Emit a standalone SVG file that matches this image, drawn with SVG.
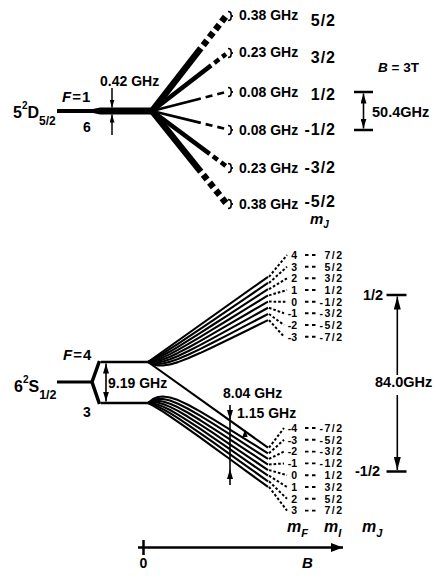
<svg xmlns="http://www.w3.org/2000/svg" width="435" height="577" viewBox="0 0 435 577">
<defs>
<style>
.t{font-family:"Liberation Sans",Arial,Helvetica,sans-serif;font-weight:bold;fill:#000}
.s14{font-size:14px}
.sm{font-size:10.5px}
.i{font-style:italic}
.ln{stroke:#000;fill:none;stroke-linecap:butt}
.cv{stroke:#000;fill:none;stroke-width:2.1;stroke-linejoin:round}
.dt{stroke:#000;fill:none;stroke-width:2;stroke-dasharray:2.6 2}
.mid{stroke:#000;fill:none;stroke-width:1.9;stroke-dasharray:3.5 3.5}
.br{stroke:#000;fill:none;stroke-width:1.6}
.fr{letter-spacing:1.5px}
.frt{letter-spacing:1px}
</style>
<marker id="ah" viewBox="0 0 10 6" refX="10" refY="3" markerWidth="10" markerHeight="6" markerUnits="userSpaceOnUse" orient="auto-start-reverse"><path d="M0,0 L10,3 L0,6 z"/></marker>
<marker id="ahs" viewBox="0 0 8 5" refX="8" refY="2.5" markerWidth="8" markerHeight="5" markerUnits="userSpaceOnUse" orient="auto"><path d="M0,0 L8,2.5 L0,5 z"/></marker>
<marker id="ahl" viewBox="0 0 13 7" refX="13" refY="3.5" markerWidth="13" markerHeight="7" markerUnits="userSpaceOnUse" orient="auto"><path d="M0,0 L13,3.5 L0,7 z"/></marker>
<marker id="ahb" viewBox="0 0 12 9" refX="12" refY="4.5" markerWidth="12" markerHeight="9" markerUnits="userSpaceOnUse" orient="auto"><path d="M0,0 L12,4.5 L0,9 z"/></marker>
<path id="brace" d="M0,-4.5 q3,0 3,2.5 v0.5 q0,1.5 2,1.5 q-2,0 -2,1.5 v0.5 q0,2.5 -3,2.5"/>
</defs>
<rect width="435" height="577" fill="#fff"/>

<g id="level-5D52">
<text class="t" x="13" y="118" font-size="16">5<tspan font-size="10" dy="-9">2</tspan><tspan dy="9">D</tspan><tspan font-size="12" dy="7">5/2</tspan></text>
<polygon points="57,109 93,109 100,107.5 152,107.5 152,114.5 100,114.5 93,113 57,113" fill="#000"/>
<text class="t" x="62" y="102" font-size="15" letter-spacing="1"><tspan class="i">F</tspan>=1</text>
<text class="t s14" x="83" y="132">6</text>
<text class="t s14" x="100" y="86">0.42 GHz</text>
</g>

<g id="sublevels-5D">
<text class="t s14" x="239" y="20">0.38 GHz</text>
<text class="t s14" x="239" y="57">0.23 GHz</text>
<text class="t s14" x="239" y="97">0.08 GHz</text>
<text class="t s14" x="239" y="135">0.08 GHz</text>
<text class="t s14" x="239" y="173">0.23 GHz</text>
<text class="t s14" x="239" y="209">0.38 GHz</text>
<g font-size="16" class="t frt" text-anchor="end">
<text x="336" y="26">5/2</text>
<text x="336" y="63">3/2</text>
<text x="336" y="100">1/2</text>
<text x="336" y="135">-1/2</text>
<text x="336" y="173">-3/2</text>
<text x="336" y="207">-5/2</text>
</g>
<text class="t" x="310" y="224" font-size="15"><tspan class="i">m</tspan><tspan class="i" font-size="10" dy="4">J</tspan></text>
<text class="t" x="378" y="72" font-size="13.5"><tspan class="i">B</tspan> = 3T</text>
</g>

<g id="scale-50GHz">
<line class="ln" x1="354" y1="92" x2="373" y2="92" stroke-width="2.5"/>
<line class="ln" x1="354" y1="130" x2="373" y2="130" stroke-width="2.5"/>
<text class="t" x="372" y="117" font-size="14.5">50.4GHz</text>
</g>

<g id="level-6S12">
<text class="t" x="14" y="392" font-size="16">6<tspan font-size="10" dy="-9">2</tspan><tspan dy="9">S</tspan><tspan font-size="12.5" dy="7">1/2</tspan></text>
<line class="ln" x1="57" y1="382" x2="93" y2="382" stroke-width="3"/>
<polyline class="ln" points="99.5,361 92,382 99.5,404" stroke-width="3.5" stroke-linejoin="miter"/>
</g>
<g id="level-F4">
<line class="ln" x1="101" y1="362" x2="148" y2="362" stroke-width="2.5"/>
<text class="t" x="63" y="360" font-size="15" letter-spacing="1"><tspan class="i">F</tspan>=4</text>
</g>
<g id="level-F3">
<line class="ln" x1="101" y1="403" x2="148" y2="403" stroke-width="2.5"/>
<text class="t s14" x="83" y="417">3</text>
</g>
<g id="hfs-label">
<text class="t s14" x="108" y="388">9.19 GHz</text>
</g>

<g id="labels-upper" class="t sm">
<g text-anchor="end">
<text x="297" y="258.8">4</text>
<text x="297" y="270.5">3</text>
<text x="297" y="282.1">2</text>
<text x="297" y="293.8">1</text>
<text x="297" y="305.5">0</text>
<text x="297" y="317.1">-1</text>
<text x="297" y="328.8">-2</text>
<text x="297" y="340.5">-3</text>
</g>
<g text-anchor="end" class="fr">
<text x="343.5" y="258.8">7/2</text>
<text x="343.5" y="270.5">5/2</text>
<text x="343.5" y="282.1">3/2</text>
<text x="343.5" y="293.8">1/2</text>
<text x="343.5" y="305.5">-1/2</text>
<text x="343.5" y="317.1">-3/2</text>
<text x="343.5" y="328.8">-5/2</text>
<text x="343.5" y="340.5">-7/2</text>
</g>
</g>

<g id="labels-lower" class="t sm">
<g text-anchor="end">
<text x="297" y="431.8">-4</text>
<text x="297" y="443.6">-3</text>
<text x="297" y="455.4">-2</text>
<text x="297" y="467.2">-1</text>
<text x="297" y="479">0</text>
<text x="297" y="490.8">1</text>
<text x="297" y="502.6">2</text>
<text x="297" y="514.4">3</text>
</g>
<g text-anchor="end" class="fr">
<text x="343.5" y="431.8">-7/2</text>
<text x="343.5" y="443.6">-5/2</text>
<text x="343.5" y="455.4">-3/2</text>
<text x="343.5" y="467.2">-1/2</text>
<text x="343.5" y="479">1/2</text>
<text x="343.5" y="490.8">3/2</text>
<text x="343.5" y="502.6">5/2</text>
<text x="343.5" y="514.4">7/2</text>
</g>
</g>

<g id="column-heads" class="t">
<text x="287" y="532" font-size="16"><tspan class="i">m</tspan><tspan class="i" font-size="11" dy="5">F</tspan></text>
<text x="324" y="532" font-size="16"><tspan class="i">m</tspan><tspan class="i" font-size="11" dy="5">I</tspan></text>
<text x="362" y="532" font-size="16"><tspan class="i">m</tspan><tspan class="i" font-size="11" dy="5">J</tspan></text>
</g>

<g id="scale-84GHz">
<line class="ln" x1="386.5" y1="295" x2="406.5" y2="295" stroke-width="2.5"/>
<line class="ln" x1="386.5" y1="471.5" x2="406.5" y2="471.5" stroke-width="2.5"/>
<text class="t" x="363" y="300" font-size="14.5">1/2</text>
<text class="t" x="355" y="476" font-size="14.5">-1/2</text>
<text class="t" x="375" y="387" font-size="14.5">84.0GHz</text>
</g>

<g id="field-axis">
<line class="ln" x1="138" y1="547.5" x2="343" y2="547.5" stroke-width="2.5" marker-end="url(#ahb)"/>
<line class="ln" x1="143.5" y1="540" x2="143.5" y2="555" stroke-width="2.5"/>
<text class="t s14" x="143.5" y="568" text-anchor="middle">0</text>
<text class="t i" x="302" y="568" font-size="15">B</text>
</g>

<g id="splitting-labels">
<text class="t s14" x="223" y="398">8.04 GHz</text>
<text class="t s14" x="237" y="418">1.15 GHz</text>
</g>

<g id="connectors">
<line class="ln" x1="112" y1="88" x2="112" y2="107.5" stroke-width="1.5" marker-end="url(#ahs)"/>
<line class="ln" x1="112" y1="135" x2="112" y2="114.5" stroke-width="1.5" marker-end="url(#ahs)"/>
<line class="ln" x1="152" y1="111" x2="200.8" y2="48.3" stroke-width="6.5"/>
<line class="ln" x1="152" y1="111" x2="211.2" y2="65.4" stroke-width="4.5"/>
<line class="ln" x1="152" y1="111" x2="200.8" y2="98.5" stroke-width="2.7"/>
<line class="ln" x1="152" y1="111" x2="200.8" y2="122.9" stroke-width="2.7"/>
<line class="ln" x1="152" y1="111" x2="209.7" y2="153.9" stroke-width="4.5"/>
<line class="ln" x1="152" y1="111" x2="200.8" y2="171.7" stroke-width="6.5"/>
<line class="ln" x1="200.8" y1="48.3" x2="226" y2="16" stroke-width="6.5" stroke-dasharray="6 4" stroke-dashoffset="6"/>
<line class="ln" x1="211.2" y1="65.4" x2="226" y2="54" stroke-width="4.5" stroke-dasharray="6 4" stroke-dashoffset="6"/>
<line class="ln" x1="200.8" y1="98.5" x2="226" y2="92" stroke-width="2.7" stroke-dasharray="7 5" stroke-dashoffset="7"/>
<line class="ln" x1="200.8" y1="122.9" x2="226" y2="129" stroke-width="2.7" stroke-dasharray="7 5" stroke-dashoffset="7"/>
<line class="ln" x1="209.7" y1="153.9" x2="226" y2="166" stroke-width="4.5" stroke-dasharray="6 4" stroke-dashoffset="6"/>
<line class="ln" x1="200.8" y1="171.7" x2="226" y2="203" stroke-width="6.5" stroke-dasharray="6 4" stroke-dashoffset="6"/>
<use href="#brace" class="br" x="228" y="16"/>
<use href="#brace" class="br" x="228" y="53"/>
<use href="#brace" class="br" x="228" y="92"/>
<use href="#brace" class="br" x="228" y="130"/>
<use href="#brace" class="br" x="228" y="168"/>
<use href="#brace" class="br" x="228" y="204"/>
<line class="ln" x1="363.5" y1="93.5" x2="363.5" y2="128.5" stroke-width="1.6" marker-start="url(#ah)" marker-end="url(#ah)"/>
<line class="ln" x1="106" y1="363.5" x2="106" y2="401.5" stroke-width="1.6" marker-start="url(#ah)" marker-end="url(#ah)"/>
<path class="cv" d="M148,362 L268,276.8"/>
<path class="cv" d="M148,362 L153,359.3 L158,356.41 L163,353.37 L170,348.96 L178,343.76 L188,337.13 L200,329.08 L213,320.3 L228,310.14 L248,296.57 L268,282.99"/>
<path class="cv" d="M148,362 L153,360.16 L158,357.92 L163,355.39 L170,351.53 L178,346.82 L188,340.67 L200,333.08 L213,324.75 L228,315.07 L248,302.13 L268,289.18"/>
<path class="cv" d="M148,362 L153,361.01 L158,359.42 L163,357.42 L170,354.11 L178,349.88 L188,344.2 L200,337.08 L213,329.2 L228,320.01 L248,307.7 L268,295.37"/>
<path class="cv" d="M148,362 L153,361.86 L158,360.93 L163,359.44 L170,356.68 L178,352.94 L188,347.73 L200,341.08 L213,333.65 L228,324.94 L248,313.27 L268,301.56"/>
<path class="cv" d="M148,362 L153,362.72 L158,362.44 L163,361.46 L170,359.26 L178,356 L188,351.27 L200,345.08 L213,338.1 L228,329.88 L248,318.84 L268,307.76"/>
<path class="cv" d="M148,362 L153,363.57 L158,363.95 L163,363.48 L170,361.84 L178,359.06 L188,354.8 L200,349.08 L213,342.55 L228,334.82 L248,324.4 L268,313.95"/>
<path class="cv" d="M148,362 L153,364.42 L158,365.46 L163,365.5 L170,364.41 L178,362.12 L188,358.33 L200,353.08 L213,347 L228,339.75 L248,329.97 L268,320.14"/>
<path class="cv" d="M148,362 L268,447.7"/>
<path class="cv" d="M148,403 L153,399 L158,397.03 L163,396.51 L170,397.46 L178,400.09 L188,404.72 L200,411.3 L213,419.04 L228,428.27 L248,440.77 L268,453.33"/>
<path class="cv" d="M148,403 L153,400.11 L158,398.95 L163,399.03 L170,400.59 L178,403.7 L188,408.74 L200,415.66 L213,423.67 L228,433.18 L248,446.03 L268,458.93"/>
<path class="cv" d="M148,403 L153,401.21 L158,400.86 L163,401.56 L170,403.73 L178,407.31 L188,412.75 L200,420.01 L213,428.31 L228,438.1 L248,451.29 L268,464.52"/>
<path class="cv" d="M148,403 L153,402.31 L158,402.78 L163,404.09 L170,406.87 L178,410.93 L188,416.77 L200,424.37 L213,432.95 L228,443.02 L248,456.55 L268,470.12"/>
<path class="cv" d="M148,403 L153,403.42 L158,404.7 L163,406.61 L170,410 L178,414.54 L188,420.79 L200,428.72 L213,437.58 L228,447.93 L248,461.81 L268,475.72"/>
<path class="cv" d="M148,403 L153,404.52 L158,406.62 L163,409.14 L170,413.14 L178,418.15 L188,424.81 L200,433.08 L213,442.22 L228,452.85 L248,467.08 L268,481.32"/>
<path class="cv" d="M148,403 L153,405.63 L158,408.54 L163,411.66 L170,416.27 L178,421.77 L188,428.82 L200,437.43 L213,446.85 L228,457.76 L248,472.34 L268,486.92"/>
<line class="dt" x1="269" y1="276.8" x2="287" y2="255"/>
<line class="dt" x1="269" y1="283" x2="287" y2="266.7"/>
<line class="dt" x1="269" y1="289.2" x2="287" y2="278.3"/>
<line class="dt" x1="269" y1="295.4" x2="287" y2="290"/>
<line class="dt" x1="269" y1="301.6" x2="286" y2="301.7"/>
<line class="dt" x1="269" y1="307.8" x2="284" y2="313.3"/>
<line class="dt" x1="269" y1="314" x2="284" y2="325"/>
<line class="dt" x1="269" y1="320.1" x2="284" y2="336.7"/>
<line class="dt" x1="269" y1="447.7" x2="284" y2="428"/>
<line class="dt" x1="269" y1="453.3" x2="284" y2="439.8"/>
<line class="dt" x1="269" y1="458.9" x2="284" y2="451.6"/>
<line class="dt" x1="269" y1="464.5" x2="284" y2="463.4"/>
<line class="dt" x1="269" y1="470.1" x2="287" y2="475.2"/>
<line class="dt" x1="269" y1="475.7" x2="287" y2="487"/>
<line class="dt" x1="269" y1="481.3" x2="287" y2="498.8"/>
<line class="dt" x1="269" y1="486.9" x2="287" y2="510.6"/>
<g class="mid">
<line x1="305" y1="255" x2="317" y2="255"/>
<line x1="305" y1="266.7" x2="317" y2="266.7"/>
<line x1="305" y1="278.3" x2="317" y2="278.3"/>
<line x1="305" y1="290" x2="317" y2="290"/>
<line x1="305" y1="301.7" x2="317" y2="301.7"/>
<line x1="305" y1="313.3" x2="317" y2="313.3"/>
<line x1="305" y1="325" x2="317" y2="325"/>
<line x1="305" y1="336.7" x2="317" y2="336.7"/>
<line x1="305" y1="428" x2="317" y2="428"/>
<line x1="305" y1="439.8" x2="317" y2="439.8"/>
<line x1="305" y1="451.6" x2="317" y2="451.6"/>
<line x1="305" y1="463.4" x2="317" y2="463.4"/>
<line x1="305" y1="475.2" x2="317" y2="475.2"/>
<line x1="305" y1="487" x2="317" y2="487"/>
<line x1="305" y1="498.8" x2="317" y2="498.8"/>
<line x1="305" y1="510.6" x2="317" y2="510.6"/>
</g>
<line class="ln" x1="397.3" y1="375" x2="397.3" y2="296.5" stroke-width="1.6" marker-end="url(#ahl)"/>
<line class="ln" x1="397.3" y1="395" x2="397.3" y2="470" stroke-width="1.6" marker-end="url(#ahl)"/>
<line class="ln" x1="230" y1="405" x2="230" y2="420" stroke-width="1.6" marker-end="url(#ah)"/>
<line class="ln" x1="230" y1="420" x2="230" y2="469" stroke-width="1.6"/>
<line class="ln" x1="230" y1="485" x2="230" y2="469" stroke-width="1.6" marker-end="url(#ah)"/>
<polygon points="245,429.5 242.3,437 247.7,437" fill="#000"/>
</g>
</svg>
